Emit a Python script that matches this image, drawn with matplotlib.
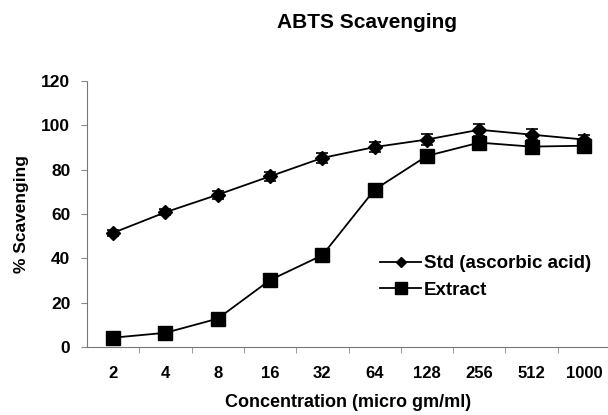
import matplotlib.pyplot as plt

plt.rcParams['font.family'] = ['Liberation Sans', 'DejaVu Sans']
plt.rcParams['font.weight'] = 'bold'

# concentrations (category axis) and % scavenging
conc = ['2', '4', '8', '16', '32', '64', '128', '256', '512', '1000']
std_vals = [51.5, 60.8, 68.7, 77.0, 85.3, 90.2, 93.6, 98.0, 95.8, 93.6]
std_err = [1.2, 1.4, 1.8, 2.0, 2.2, 2.4, 2.6, 2.6, 2.4, 2.2]
ext_vals = [4.2, 6.4, 12.8, 30.2, 41.4, 71.0, 86.2, 92.2, 90.4, 90.8]
ext_err = [0.5, 0.5, 0.6, 0.8, 0.8, 0.8, 1.0, 1.0, 1.2, 2.0]

x = list(range(len(conc)))

fig = plt.figure(figsize=(6.08, 4.15), dpi=100)
ax = fig.add_axes([87 / 608, 1 - 347 / 415, 523 / 608, 266 / 415])

std_line = ax.errorbar(x, std_vals, yerr=std_err, color='black', marker='D', markersize=7,
                       linewidth=1.3, capsize=4, elinewidth=1.2, capthick=1.2,
                       label='Std (ascorbic acid)')
ext_line = ax.errorbar(x, ext_vals, yerr=ext_err, color='black', marker='s', markersize=10,
                       linewidth=1.3, capsize=4, elinewidth=1.2, capthick=1.2,
                       label='Extract')

ax.set_xlim(-0.5, len(conc) - 0.5)
ax.set_ylim(0, 120)
ax.set_yticks(range(0, 121, 20))
ax.set_xticks(x)
ax.set_xticklabels(conc)
ax.set_xticks([i + 0.5 for i in x[:-1]], minor=True)
ax.tick_params(axis='x', which='major', length=0, pad=14, labelsize=12)
ax.tick_params(axis='x', which='minor', length=4, color='#888888', direction='out')
ax.tick_params(axis='y', length=4, color='#888888', labelsize=12.5, pad=8)

for side in ['top', 'right']:
    ax.spines[side].set_visible(False)
for side in ['left', 'bottom']:
    ax.spines[side].set_linestyle((0, (1, 1)))
    ax.spines[side].set_color('#777777')
    ax.spines[side].set_linewidth(0.8)

ax.set_ylabel('% Scavenging', fontsize=12.5, fontweight='bold', labelpad=9)
ax.set_xlabel('Concentration (micro gm/ml)', fontsize=13, fontweight='bold', labelpad=9)
fig.text(0.603, 0.945, 'ABTS Scavenging', ha='center', va='center',
         fontsize=15, fontweight='bold')

# legend without error bars in the handles
std_handle = std_line.lines[0]
ext_handle = ext_line.lines[0]
ax.legend([std_handle, ext_handle], ['Std (ascorbic acid)', 'Extract'],
          loc='center left', bbox_to_anchor=(380 / 608, 0.333),
          bbox_transform=fig.transFigure, frameon=False, borderpad=0,
          borderaxespad=0, fontsize=13.5, handlelength=2.2, handletextpad=0.15,
          labelspacing=0.5, markerscale=0.8)

fig.savefig('out.png', dpi=100)
